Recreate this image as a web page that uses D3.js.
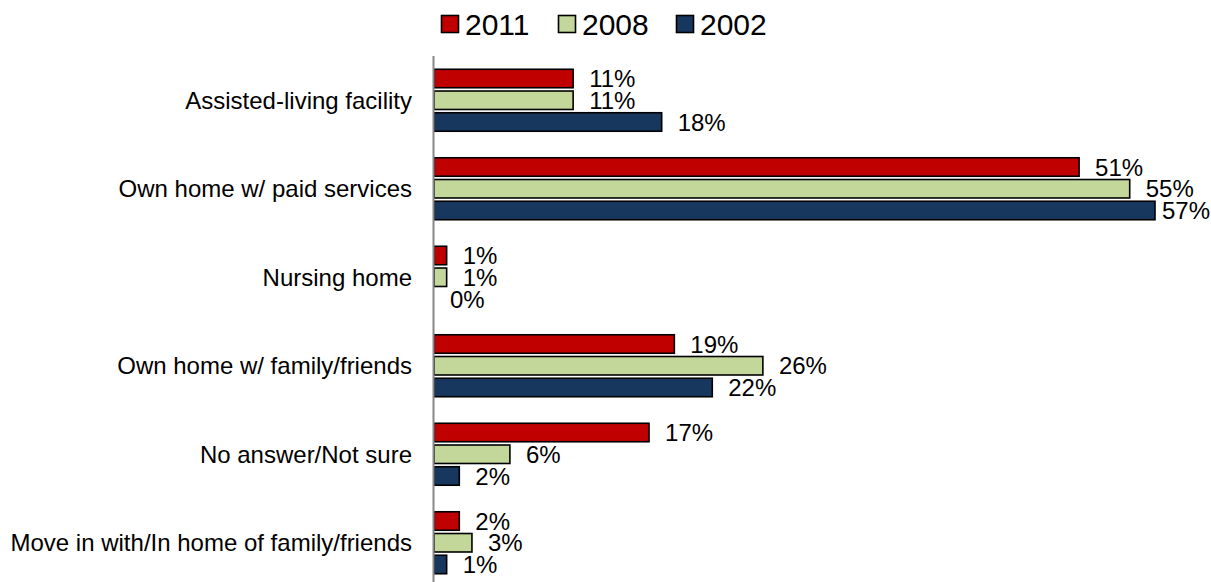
<!DOCTYPE html>
<html>
<head>
<meta charset="utf-8">
<script src="https://cdn.jsdelivr.net/npm/d3@7"></script>
<style>
  html, body { margin: 0; padding: 0; background: #fff; }
  svg { display: block; font-family: "Liberation Sans", Arial, sans-serif; }
</style>
</head>
<body>
<svg id="chart" width="1211" height="582"></svg>
<script>
// Where respondents would prefer to live
const categories = [
  "Assisted-living facility",
  "Own home w/ paid services",
  "Nursing home",
  "Own home w/ family/friends",
  "No answer/Not sure",
  "Move in with/In home of family/friends"
];
const seriesNames = ["2011", "2008", "2002"];
const values2011 = [11, 51, 1, 19, 17, 2];
const values2008 = [11, 55, 1, 26, 6, 3];
const values2002 = [18, 57, 0, 22, 2, 1];
const seriesColors = ["#C00000", "#C4D79B", "#17375E"];

const W = 1211, H = 582;
const svg = d3.select("#chart");

const seriesValues = [values2011, values2008, values2002];
const rows = categories.map((c, i) => ({
  category: c,
  bars: seriesNames.map((s, j) => ({ series: s, value: seriesValues[j][i], color: seriesColors[j] }))
}));

const x0 = 434;
const x = d3.scaleLinear().domain([0, 57]).range([x0, 1155]);

const y = d3.scaleBand()
  .domain(categories)
  .range([56, 587])
  .paddingInner(0.3)
  .paddingOuter(0.15);

const yInner = d3.scaleBand()
  .domain(seriesNames)
  .range([0, y.bandwidth()])
  .paddingInner(0.15)
  .paddingOuter(0);

// Category labels
svg.append("g")
  .selectAll("text")
  .data(categories)
  .join("text")
  .attr("x", 412)
  .attr("y", d => y(d) + y.bandwidth() / 2)
  .attr("dy", "0.35em")
  .attr("text-anchor", "end")
  .attr("font-size", 24)
  .attr("fill", "#000")
  .text(d => d);

// Bars and value labels
const groups = svg.append("g")
  .selectAll("g")
  .data(rows)
  .join("g")
  .attr("transform", d => `translate(0,${y(d.category)})`);

groups.selectAll("rect")
  .data(d => d.bars.filter(b => b.value > 0))
  .join("rect")
  .attr("x", x0)
  .attr("y", b => yInner(b.series))
  .attr("width", b => x(b.value) - x0)
  .attr("height", yInner.bandwidth())
  .attr("fill", b => b.color)
  .attr("stroke", "#000")
  .attr("stroke-width", 1.6);

groups.selectAll("text")
  .data(d => d.bars)
  .join("text")
  .attr("x", b => Math.min(x(b.value) + 16, W - 49))
  .attr("y", b => yInner(b.series) + yInner.bandwidth() / 2)
  .attr("dy", "0.36em")
  .attr("font-size", 24)
  .attr("fill", "#000")
  .text(b => b.value + "%");

// Category axis line
svg.append("line")
  .attr("x1", 433.5).attr("x2", 433.5)
  .attr("y1", 56).attr("y2", H)
  .attr("stroke", "#888")
  .attr("stroke-width", 2);

// Legend
const legendX = [441, 558, 676];
const legend = svg.append("g")
  .selectAll("g")
  .data(seriesNames)
  .join("g")
  .attr("transform", (d, i) => `translate(${legendX[i]},15)`);
legend.append("rect")
  .attr("x", 0.5).attr("y", 0.5)
  .attr("width", 17).attr("height", 17)
  .attr("fill", (d, i) => seriesColors[i])
  .attr("stroke", "#000")
  .attr("stroke-width", 1.6);
legend.append("text")
  .attr("x", 24)
  .attr("y", 9)
  .attr("dy", "0.36em")
  .attr("font-size", 30)
  .attr("fill", "#000")
  .text(d => d);
</script>
</body>
</html>
